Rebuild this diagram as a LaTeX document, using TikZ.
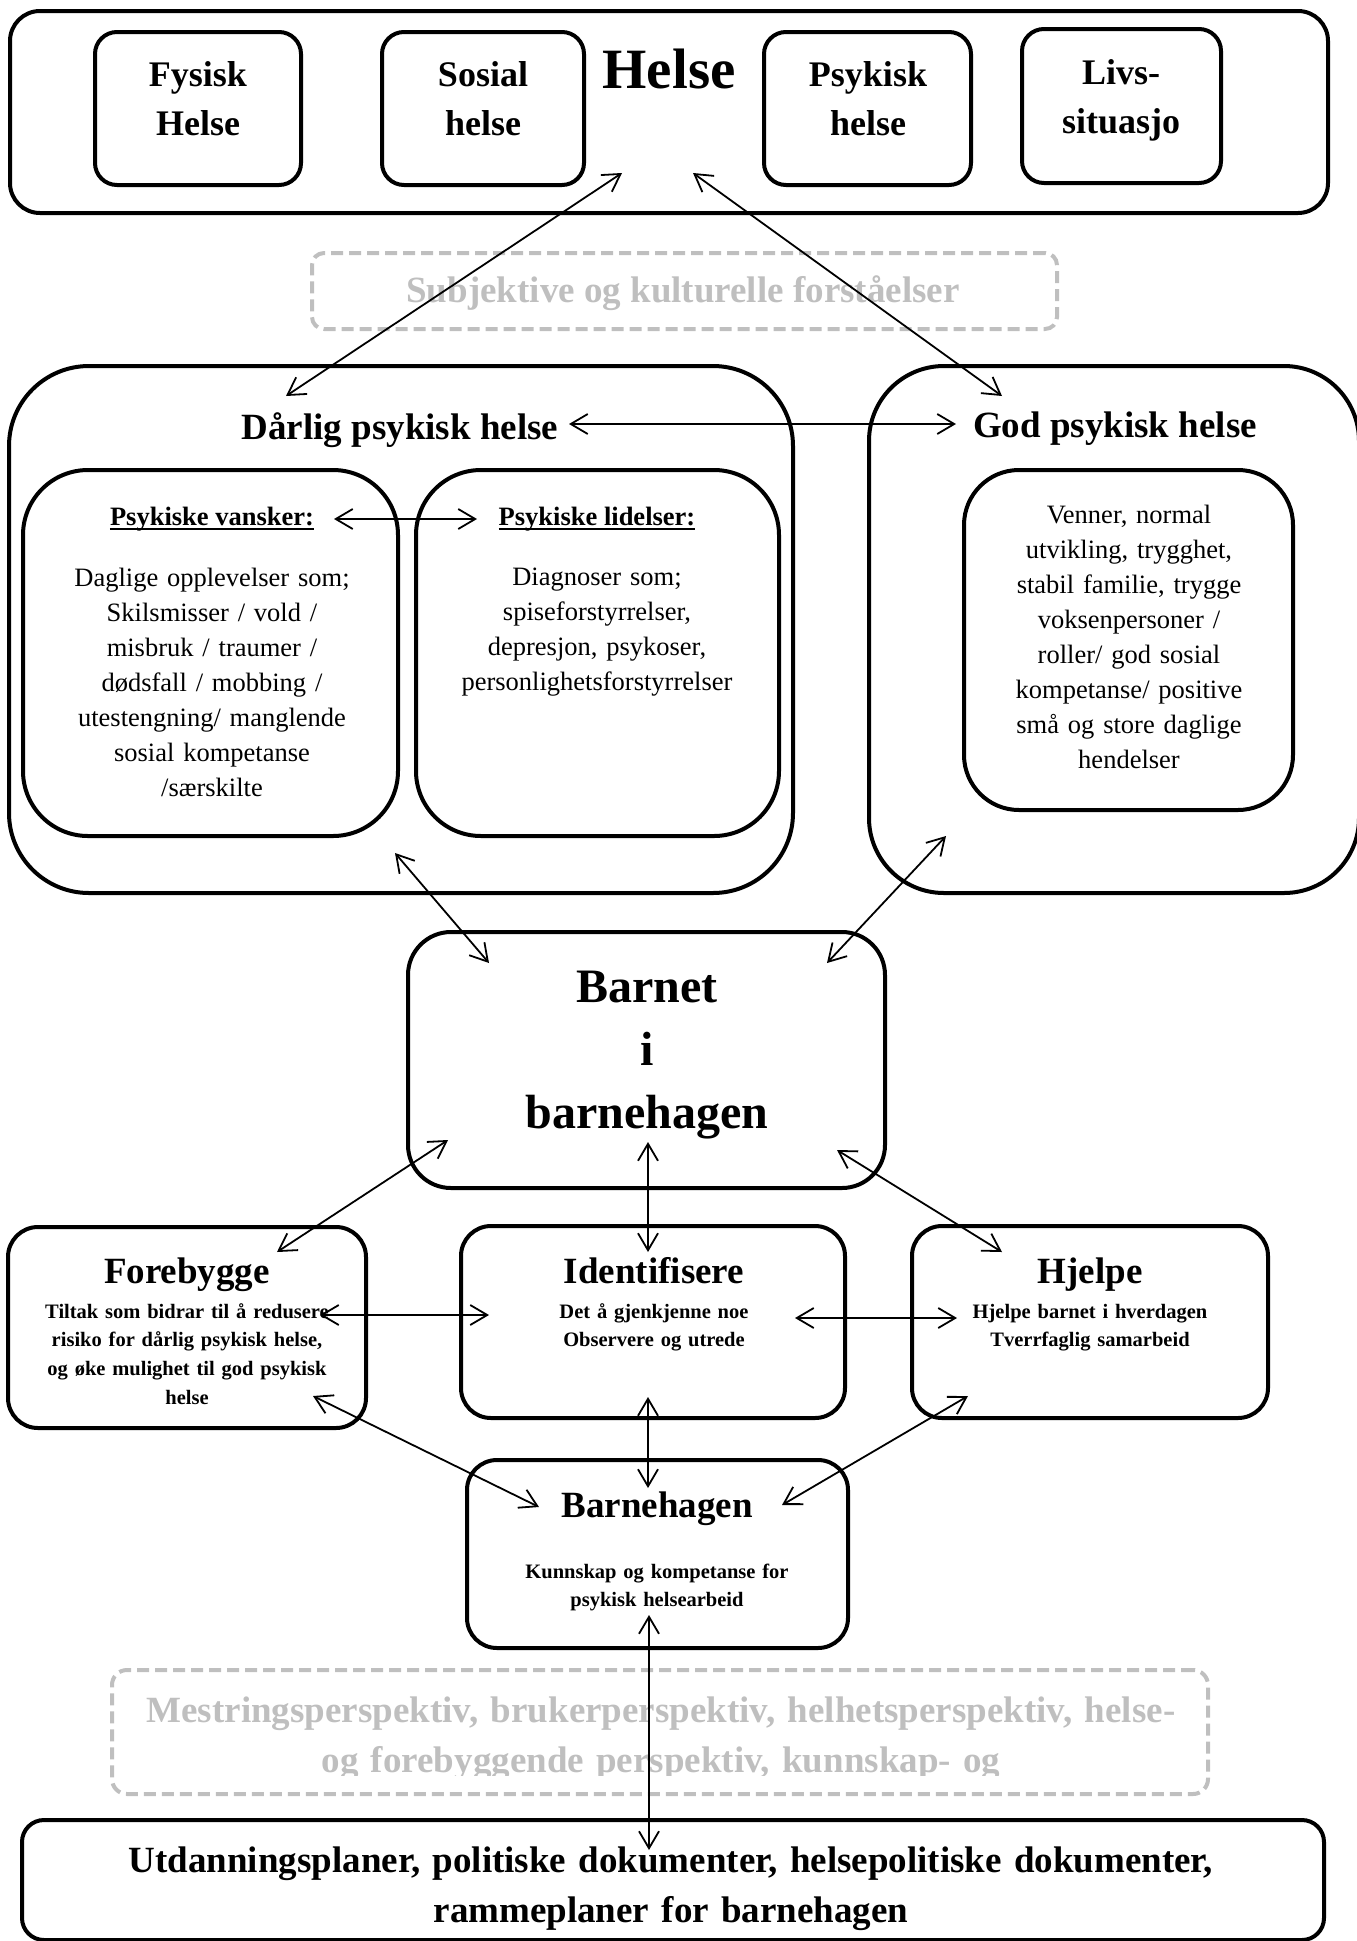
\documentclass[tikz,border=0pt]{standalone}
\usepackage{fontspec}
\setmainfont{Liberation Serif}
\usetikzlibrary{arrows.meta}
\definecolor{lg}{RGB}{191,191,191}
\begin{document}
\begin{tikzpicture}[x=1pt,y=-1pt,
  box/.style={draw, line width=4pt, inner sep=0pt, rectangle},
  dbox/.style={draw=lg, line width=4pt, dash pattern=on 12pt off 6pt, inner sep=0pt, rectangle},
  arr/.style={line width=1.8pt, {Straight Barb[length=17pt,width=20pt]}-{Straight Barb[length=17pt,width=20pt]}},
  txt/.style={inner sep=0pt, anchor=base},
  ml/.style={inner sep=0pt, anchor=base, align=center, text width=#1},
  fHelse/.style={font=\fontsize{57}{68}\selectfont\bfseries},
  fLab/.style={font=\fontsize{36}{49}\selectfont\bfseries},
  fTitle/.style={font=\fontsize{37}{50}\selectfont\bfseries},
  fSub/.style={font=\fontsize{26.5}{35}\selectfont\bfseries},
  fBody/.style={font=\fontsize{26.5}{35}\selectfont},
  fBig/.style={font=\fontsize{48}{63}\selectfont\bfseries},
  fSmall/.style={font=\fontsize{20.5}{28.7}\selectfont\bfseries},
]
\useasboundingbox (0,0) rectangle (1357,1941);

% ---------- boxes ----------
\node[box, rounded corners=30pt, minimum width=1318pt, minimum height=202pt] (top) at (669,112) {};
\node[box, rounded corners=22pt, minimum width=206pt, minimum height=153pt] (fys) at (198,108.5) {};
\node[box, rounded corners=22pt, minimum width=202pt, minimum height=153pt] (sos) at (483,108.5) {};
\node[box, rounded corners=22pt, minimum width=207pt, minimum height=153pt] (psy) at (867.5,108.5) {};
\node[box, rounded corners=22pt, minimum width=199pt, minimum height=154pt] (livs) at (1121.5,106) {};
\node[dbox, rounded corners=12pt, minimum width=745pt, minimum height=76pt] (subj) at (684.5,291) {};
\node[box, rounded corners=80pt, minimum width=784pt, minimum height=527pt] (darlig) at (401,629.5) {};
\node[box, rounded corners=75pt, minimum width=490pt, minimum height=527pt] (god) at (1114,629.5) {};
\node[box, rounded corners=65pt, minimum width=375pt, minimum height=366pt] (vansker) at (210.5,653) {};
\node[box, rounded corners=65pt, minimum width=363pt, minimum height=366pt] (lidelser) at (597.5,653) {};
\node[box, rounded corners=55pt, minimum width=329pt, minimum height=340pt] (godin) at (1128.5,640) {};
\node[box, rounded corners=43pt, minimum width=477pt, minimum height=256pt] (barnet) at (646.5,1060) {};
\node[box, rounded corners=30pt, minimum width=358pt, minimum height=201pt] (fore) at (187,1327.5) {};
\node[box, rounded corners=30pt, minimum width=384pt, minimum height=192pt] (ident) at (653,1322) {};
\node[box, rounded corners=30pt, minimum width=356pt, minimum height=192pt] (hjelpe) at (1090,1322) {};
\node[box, rounded corners=30pt, minimum width=381pt, minimum height=188pt] (bhage) at (657.5,1554) {};
\node[dbox, rounded corners=15pt, minimum width=1096pt, minimum height=124pt] (mest) at (660,1732) {};
\node[box, rounded corners=22pt, minimum width=1302pt, minimum height=120pt] (bunn) at (673,1880) {};

% ---------- texts ----------
\node[txt, fHelse] (tHelse) at (669,88) {Helse};
\node[ml=300pt, fLab] (tFys) at (198,86) {Fysisk\\Helse};
\node[ml=300pt, fLab] (tSos) at (483,86) {Sosial\\helse};
\node[ml=300pt, fLab] (tPsy) at (868,86) {Psykisk\\helse};
\node[ml=300pt, fLab] (tLivs) at (1121,84) {Livs-\\situasjo};
\node[txt, fTitle, text=lg] (tSubj) at (683,302) {Subjektive og kulturelle forståelser};

\node[txt, fTitle] (tDarlig) at (400,439) {Dårlig psykisk helse};
\node[txt, fTitle] (tGod) at (1115,437) {God psykisk helse};
\node[txt, fSub] (tVan) at (212,525) {Psykiske vansker:};
\node[txt, fSub] (tLid) at (597,525) {Psykiske lidelser:};
\node[ml=360pt, fBody] (bVan) at (212,586) {Daglige opplevelser som;\\Skilsmisser / vold /\\misbruk / traumer /\\dødsfall / mobbing /\\utestengning/ manglende\\sosial kompetanse\\/særskilte};
\node[ml=360pt, fBody] (bLid) at (597,585) {Diagnoser som;\\spiseforstyrrelser,\\depresjon, psykoser,\\personlighetsforstyrrelser};
\node[ml=320pt, fBody] (bGod) at (1129,523) {Venner, normal\\utvikling, trygghet,\\stabil familie, trygge\\voksenpersoner /\\roller/ god sosial\\kompetanse/ positive\\små og store daglige\\hendelser};

\node[ml=450pt, fBig] (tBarnet) at (647,1002) {Barnet\\i\\barnehagen};

\node[txt, fTitle] (tFore) at (187,1283) {Forebygge};
\node[txt, fTitle] (tIdent) at (654,1283) {Identifisere};
\node[txt, fTitle] (tHjelpe) at (1090,1283) {Hjelpe};
\node[txt, fTitle] (tBhage) at (657,1517) {Barnehagen};
\node[ml=350pt, fSmall] (sFore) at (187,1318) {Tiltak som bidrar til å redusere\\risiko for dårlig psykisk helse,\\og øke mulighet til god psykisk\\helse};
\node[ml=350pt, fSmall] (sIdent) at (654,1318) {Det å gjenkjenne noe\\Observere og utrede};
\node[ml=350pt, fSmall] (sHjelpe) at (1090,1318) {Hjelpe barnet i hverdagen\\Tverrfaglig samarbeid};
\node[ml=350pt, fSmall] (sBhage) at (657,1578) {Kunnskap og kompetanse for\\psykisk helsearbeid};

\begin{scope}
\clip (100,1660) rectangle (1220,1775);
\node[ml=1200pt, fTitle, text=lg] (tMest) at (661,1722) {Mestringsperspektiv, brukerperspektiv, helhetsperspektiv, helse-\\og forebyggende perspektiv, kunnskap- og};
\end{scope}
\node[ml=1290pt, fTitle] (tBunn) at (671,1872) {Utdanningsplaner, politiske dokumenter, helsepolitiske dokumenter,\\rammeplaner for barnehagen};

% underlines
\draw[line width=2pt] ([yshift=-4pt]tVan.base west) -- ([yshift=-4pt]tVan.base east);
\draw[line width=2pt] ([yshift=-4pt]tLid.base west) -- ([yshift=-4pt]tLid.base east);

% ---------- connector end points ----------
\coordinate (hL) at (622,173);  \coordinate (dT) at (286,396);
\coordinate (hR) at (693,173);  \coordinate (gT) at (1002,396);
\coordinate (dR) at (569,424);  \coordinate (gL) at (956,424);
\coordinate (vR) at (334,519);  \coordinate (lL) at (477,519);
\coordinate (dB) at (395,853);  \coordinate (bTL) at (489,963);
\coordinate (gB) at (946,836);  \coordinate (bTR) at (827,963);
\coordinate (bBL) at (448,1140); \coordinate (fT) at (277,1252);
\coordinate (bBM) at (648,1142); \coordinate (iT) at (648,1252);
\coordinate (bBR) at (837,1150); \coordinate (hjT) at (1002,1252);
\coordinate (fR) at (320,1315); \coordinate (iL) at (489,1315);
\coordinate (iR) at (795,1318); \coordinate (hjL) at (957,1318);
\coordinate (fB) at (313,1396); \coordinate (bhL) at (539,1507);
\coordinate (iB) at (648,1397); \coordinate (bhT) at (648,1488);
\coordinate (hjB) at (968,1396); \coordinate (bhR) at (782,1505);
\coordinate (bhB) at (649,1615); \coordinate (buT) at (649,1850);

% ---------- connectors ----------
\draw[arr] (hL) -- (dT);
\draw[arr] (hR) -- (gT);
\draw[arr] (dR) -- (gL);
\draw[arr] (vR) -- (lL);
\draw[arr] (dB) -- (bTL);
\draw[arr] (gB) -- (bTR);
\draw[arr] (bBL) -- (fT);
\draw[arr] (bBM) -- (iT);
\draw[arr] (bBR) -- (hjT);
\draw[arr] (fR) -- (iL);
\draw[arr] (iR) -- (hjL);
\draw[arr] (fB) -- (bhL);
\draw[arr] (iB) -- (bhT);
\draw[arr] (hjB) -- (bhR);
\draw[arr] (bhB) -- (buT);
\end{tikzpicture}
\end{document}
